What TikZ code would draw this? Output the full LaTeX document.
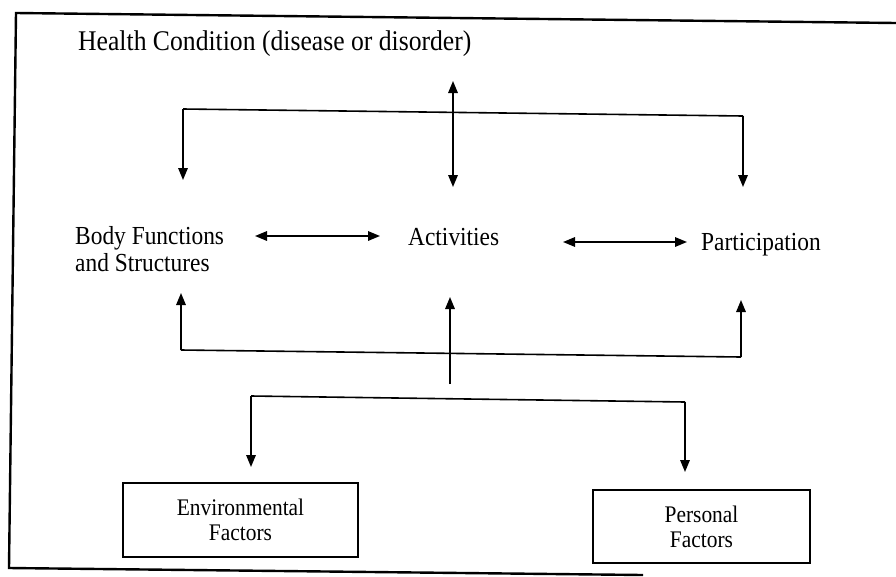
\documentclass[tikz,border=0pt]{standalone}
\usepackage{fontspec}
\setmainfont{Liberation Serif}
\newfontfamily\condfont[FakeStretch=0.9]{Liberation Serif}
\usetikzlibrary{arrows.meta}
\begin{document}
\begin{tikzpicture}[x=1pt,y=-1pt,
  lbl/.style={font=\condfont\fontsize{26}{27}\selectfont, inner sep=0pt, align=left},
  hclbl/.style={font=\condfont\fontsize{28.5}{30}\selectfont, inner sep=0pt},
  factorbox/.style={draw, line width=1.3pt, font=\condfont\fontsize{23.8}{25}\selectfont, align=center, inner sep=0pt},
  conn/.style={line width=1.6pt},
  tip/.tip={Triangle[length=12pt,width=9.5pt]},
  arr/.style={conn, -tip},
  darr/.style={conn, tip-tip},
  framestyle/.style={line width=2.4pt, line join=miter}]
\useasboundingbox (0,0) rectangle (896,576);
% frame
\coordinate (fTR) at (896,23);
\coordinate (fTL) at (16,13);
\coordinate (fBL) at (9,568);
\coordinate (fBR) at (643,575);
\draw[framestyle] (fTR) -- (fTL) -- (fBL) -- (fBR);
% labels
\node[hclbl, anchor=base west] (hc) at (78,50) {Health Condition (disease or disorder)};
\node[lbl, anchor=west] (body) at (75,249.5) {Body Functions\\and Structures};
\node[lbl, anchor=base west] (act) at (408,245) {Activities};
\node[lbl, anchor=base west] (part) at (701,250) {Participation};
\node[factorbox, minimum width=235pt, minimum height=74pt] (env) at (240.5,520) {Environmental\\Factors};
\node[factorbox, minimum width=217pt, minimum height=73pt] (pers) at (701.5,526.5) {Personal\\Factors};
% top connectors
\coordinate (hcUp) at (453,81);
\coordinate (hcDown) at (453,187);
\draw[darr] (hcUp) -- (hcDown);
\coordinate (tL) at (183,109);
\coordinate (tR) at (743,116);
\coordinate (tLend) at (183,180);
\coordinate (tRend) at (743,187);
\draw[conn] (tL) -- (tR);
\draw[arr] (tL) -- (tLend);
\draw[arr] (tR) -- (tRend);
% middle horizontal arrows
\coordinate (ba1) at (255,236);
\coordinate (ba2) at (380,236);
\draw[darr] (ba1) -- (ba2);
\coordinate (ap1) at (563,242);
\coordinate (ap2) at (687,242);
\draw[darr] (ap1) -- (ap2);
% lower connectors
\coordinate (lL) at (181,350);
\coordinate (lR) at (741,357);
\coordinate (lLtip) at (181,293);
\coordinate (lRtip) at (741,300);
\draw[conn] (lL) -- (lR);
\draw[arr] (lL) -- (lLtip);
\draw[arr] (lR) -- (lRtip);
\coordinate (mBot) at (450,384);
\coordinate (mTip) at (450,297);
\draw[arr] (mBot) -- (mTip);
% bottom split
\coordinate (bL) at (251,396);
\coordinate (bR) at (685,402);
\coordinate (bLtip) at (251,467);
\coordinate (bRtip) at (685,472);
\draw[conn] (bL) -- (bR);
\draw[arr] (bL) -- (bLtip);
\draw[arr] (bR) -- (bRtip);
\end{tikzpicture}
\end{document}
